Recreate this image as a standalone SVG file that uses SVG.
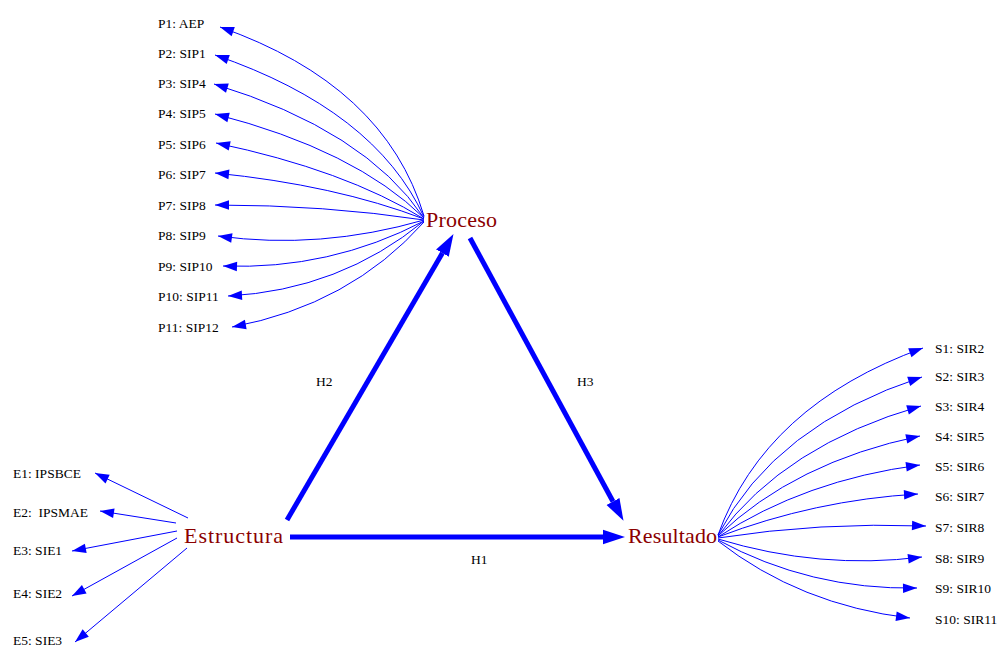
<svg xmlns="http://www.w3.org/2000/svg" width="1000" height="647" viewBox="0 0 1000 647">
<style>
text{font-family:'Liberation Serif',serif}
.leaf{font-size:13.5px;fill:#000}
.main{font-size:22px;fill:#8b0000}
.thin{fill:none;stroke:#0000ff;stroke-width:1}
.thick{fill:none;stroke:#0000ff;stroke-width:5}
</style>
<defs>
<marker id="ah" markerUnits="userSpaceOnUse" markerWidth="16" markerHeight="12" viewBox="0 -6 14 12" refX="14" refY="0" orient="auto">
<path d="M0,-4.8 L14,0 L0,4.8 z" fill="#0000ff"/>
</marker>
<marker id="ahb" markerUnits="userSpaceOnUse" markerWidth="22" markerHeight="18" viewBox="0 -8 21 16" refX="0" refY="0" orient="auto">
<path d="M0,-7 L21,0 L0,7 z" fill="#0000ff"/>
</marker>
</defs>
<g id="connectors">
<path class="thin" marker-end="url(#ah)" d="M424,216 Q385,85 220,27"/>
<path class="thin" marker-end="url(#ah)" d="M424,217 Q375,110 215,55"/>
<path class="thin" marker-end="url(#ah)" d="M424,218 Q365,130 214,84"/>
<path class="thin" marker-end="url(#ah)" d="M424,218 Q355,150 215,114"/>
<path class="thin" marker-end="url(#ah)" d="M424,219 Q345,170 216,143"/>
<path class="thin" marker-end="url(#ah)" d="M424,219 Q335,185 215,173"/>
<path class="thin" marker-end="url(#ah)" d="M424,220 Q325,205 215,205"/>
<path class="thin" marker-end="url(#ah)" d="M424,220 Q320,250 218,236"/>
<path class="thin" marker-end="url(#ah)" d="M424,221 Q330,270 223,266"/>
<path class="thin" marker-end="url(#ah)" d="M424,221 Q340,290 228,296"/>
<path class="thin" marker-end="url(#ah)" d="M424,222 Q350,305 232,327"/>
<path class="thin" marker-end="url(#ah)" d="M188,518 L95,473"/>
<path class="thin" marker-end="url(#ah)" d="M176,523 L100,511"/>
<path class="thin" marker-end="url(#ah)" d="M177,531 L72,551"/>
<path class="thin" marker-end="url(#ah)" d="M177,538 L72,596"/>
<path class="thin" marker-end="url(#ah)" d="M187,548 L75,642"/>
<path class="thin" marker-end="url(#ah)" d="M718,535 Q765,405 923,348"/>
<path class="thin" marker-end="url(#ah)" d="M718,535 Q775,425 922,377"/>
<path class="thin" marker-end="url(#ah)" d="M718,536 Q785,445 921,406"/>
<path class="thin" marker-end="url(#ah)" d="M718,536 Q795,462 920,436"/>
<path class="thin" marker-end="url(#ah)" d="M718,537 Q805,480 920,465"/>
<path class="thin" marker-end="url(#ah)" d="M718,537 Q815,500 918,494"/>
<path class="thin" marker-end="url(#ah)" d="M718,538 Q820,522 926,526"/>
<path class="thin" marker-end="url(#ah)" d="M718,539 Q820,570 922,557"/>
<path class="thin" marker-end="url(#ah)" d="M718,540 Q810,590 917,588"/>
<path class="thin" marker-end="url(#ah)" d="M718,541 Q800,605 910,618"/>
<path class="thick" marker-end="url(#ahb)" d="M287,520 L442.4,253.1"/>
<path class="thick" marker-end="url(#ahb)" d="M470,238 L613,501.5"/>
<path class="thick" marker-end="url(#ahb)" d="M290,537 L603,537"/>
<text class="leaf" x="316" y="386">H2</text>
<text class="leaf" x="577" y="386">H3</text>
<text class="leaf" x="471" y="564">H1</text>
</g>
<g id="Proceso"><text class="main" x="426" y="227" textLength="71">Proceso</text></g>
<g id="Estructura"><text class="main" x="184" y="543" textLength="99">Estructura</text></g>
<g id="Resultado"><text class="main" x="628" y="543" textLength="89">Resultado</text></g>
<g id="P1"><text class="leaf" x="158" y="28">P1: AEP</text></g>
<g id="P2"><text class="leaf" x="158" y="58">P2: SIP1</text></g>
<g id="P3"><text class="leaf" x="158" y="88">P3: SIP4</text></g>
<g id="P4"><text class="leaf" x="158" y="118">P4: SIP5</text></g>
<g id="P5"><text class="leaf" x="158" y="149">P5: SIP6</text></g>
<g id="P6"><text class="leaf" x="158" y="179">P6: SIP7</text></g>
<g id="P7"><text class="leaf" x="158" y="210">P7: SIP8</text></g>
<g id="P8"><text class="leaf" x="158" y="240">P8: SIP9</text></g>
<g id="P9"><text class="leaf" x="158" y="271">P9: SIP10</text></g>
<g id="P10"><text class="leaf" x="158" y="301">P10: SIP11</text></g>
<g id="P11"><text class="leaf" x="158" y="332">P11: SIP12</text></g>
<g id="E1"><text class="leaf" x="13" y="478">E1: IPSBCE</text></g>
<g id="E2"><text class="leaf" x="13" y="517" xml:space="preserve">E2:  IPSMAE</text></g>
<g id="E3"><text class="leaf" x="13" y="555">E3: SIE1</text></g>
<g id="E4"><text class="leaf" x="13" y="598">E4: SIE2</text></g>
<g id="E5"><text class="leaf" x="13" y="645">E5: SIE3</text></g>
<g id="S1"><text class="leaf" x="935" y="353">S1: SIR2</text></g>
<g id="S2"><text class="leaf" x="935" y="381">S2: SIR3</text></g>
<g id="S3"><text class="leaf" x="935" y="411">S3: SIR4</text></g>
<g id="S4"><text class="leaf" x="935" y="441">S4: SIR5</text></g>
<g id="S5"><text class="leaf" x="935" y="471">S5: SIR6</text></g>
<g id="S6"><text class="leaf" x="935" y="501">S6: SIR7</text></g>
<g id="S7"><text class="leaf" x="935" y="532">S7: SIR8</text></g>
<g id="S8"><text class="leaf" x="935" y="563">S8: SIR9</text></g>
<g id="S9"><text class="leaf" x="935" y="593">S9: SIR10</text></g>
<g id="S10"><text class="leaf" x="935" y="624">S10: SIR11</text></g>
</svg>
